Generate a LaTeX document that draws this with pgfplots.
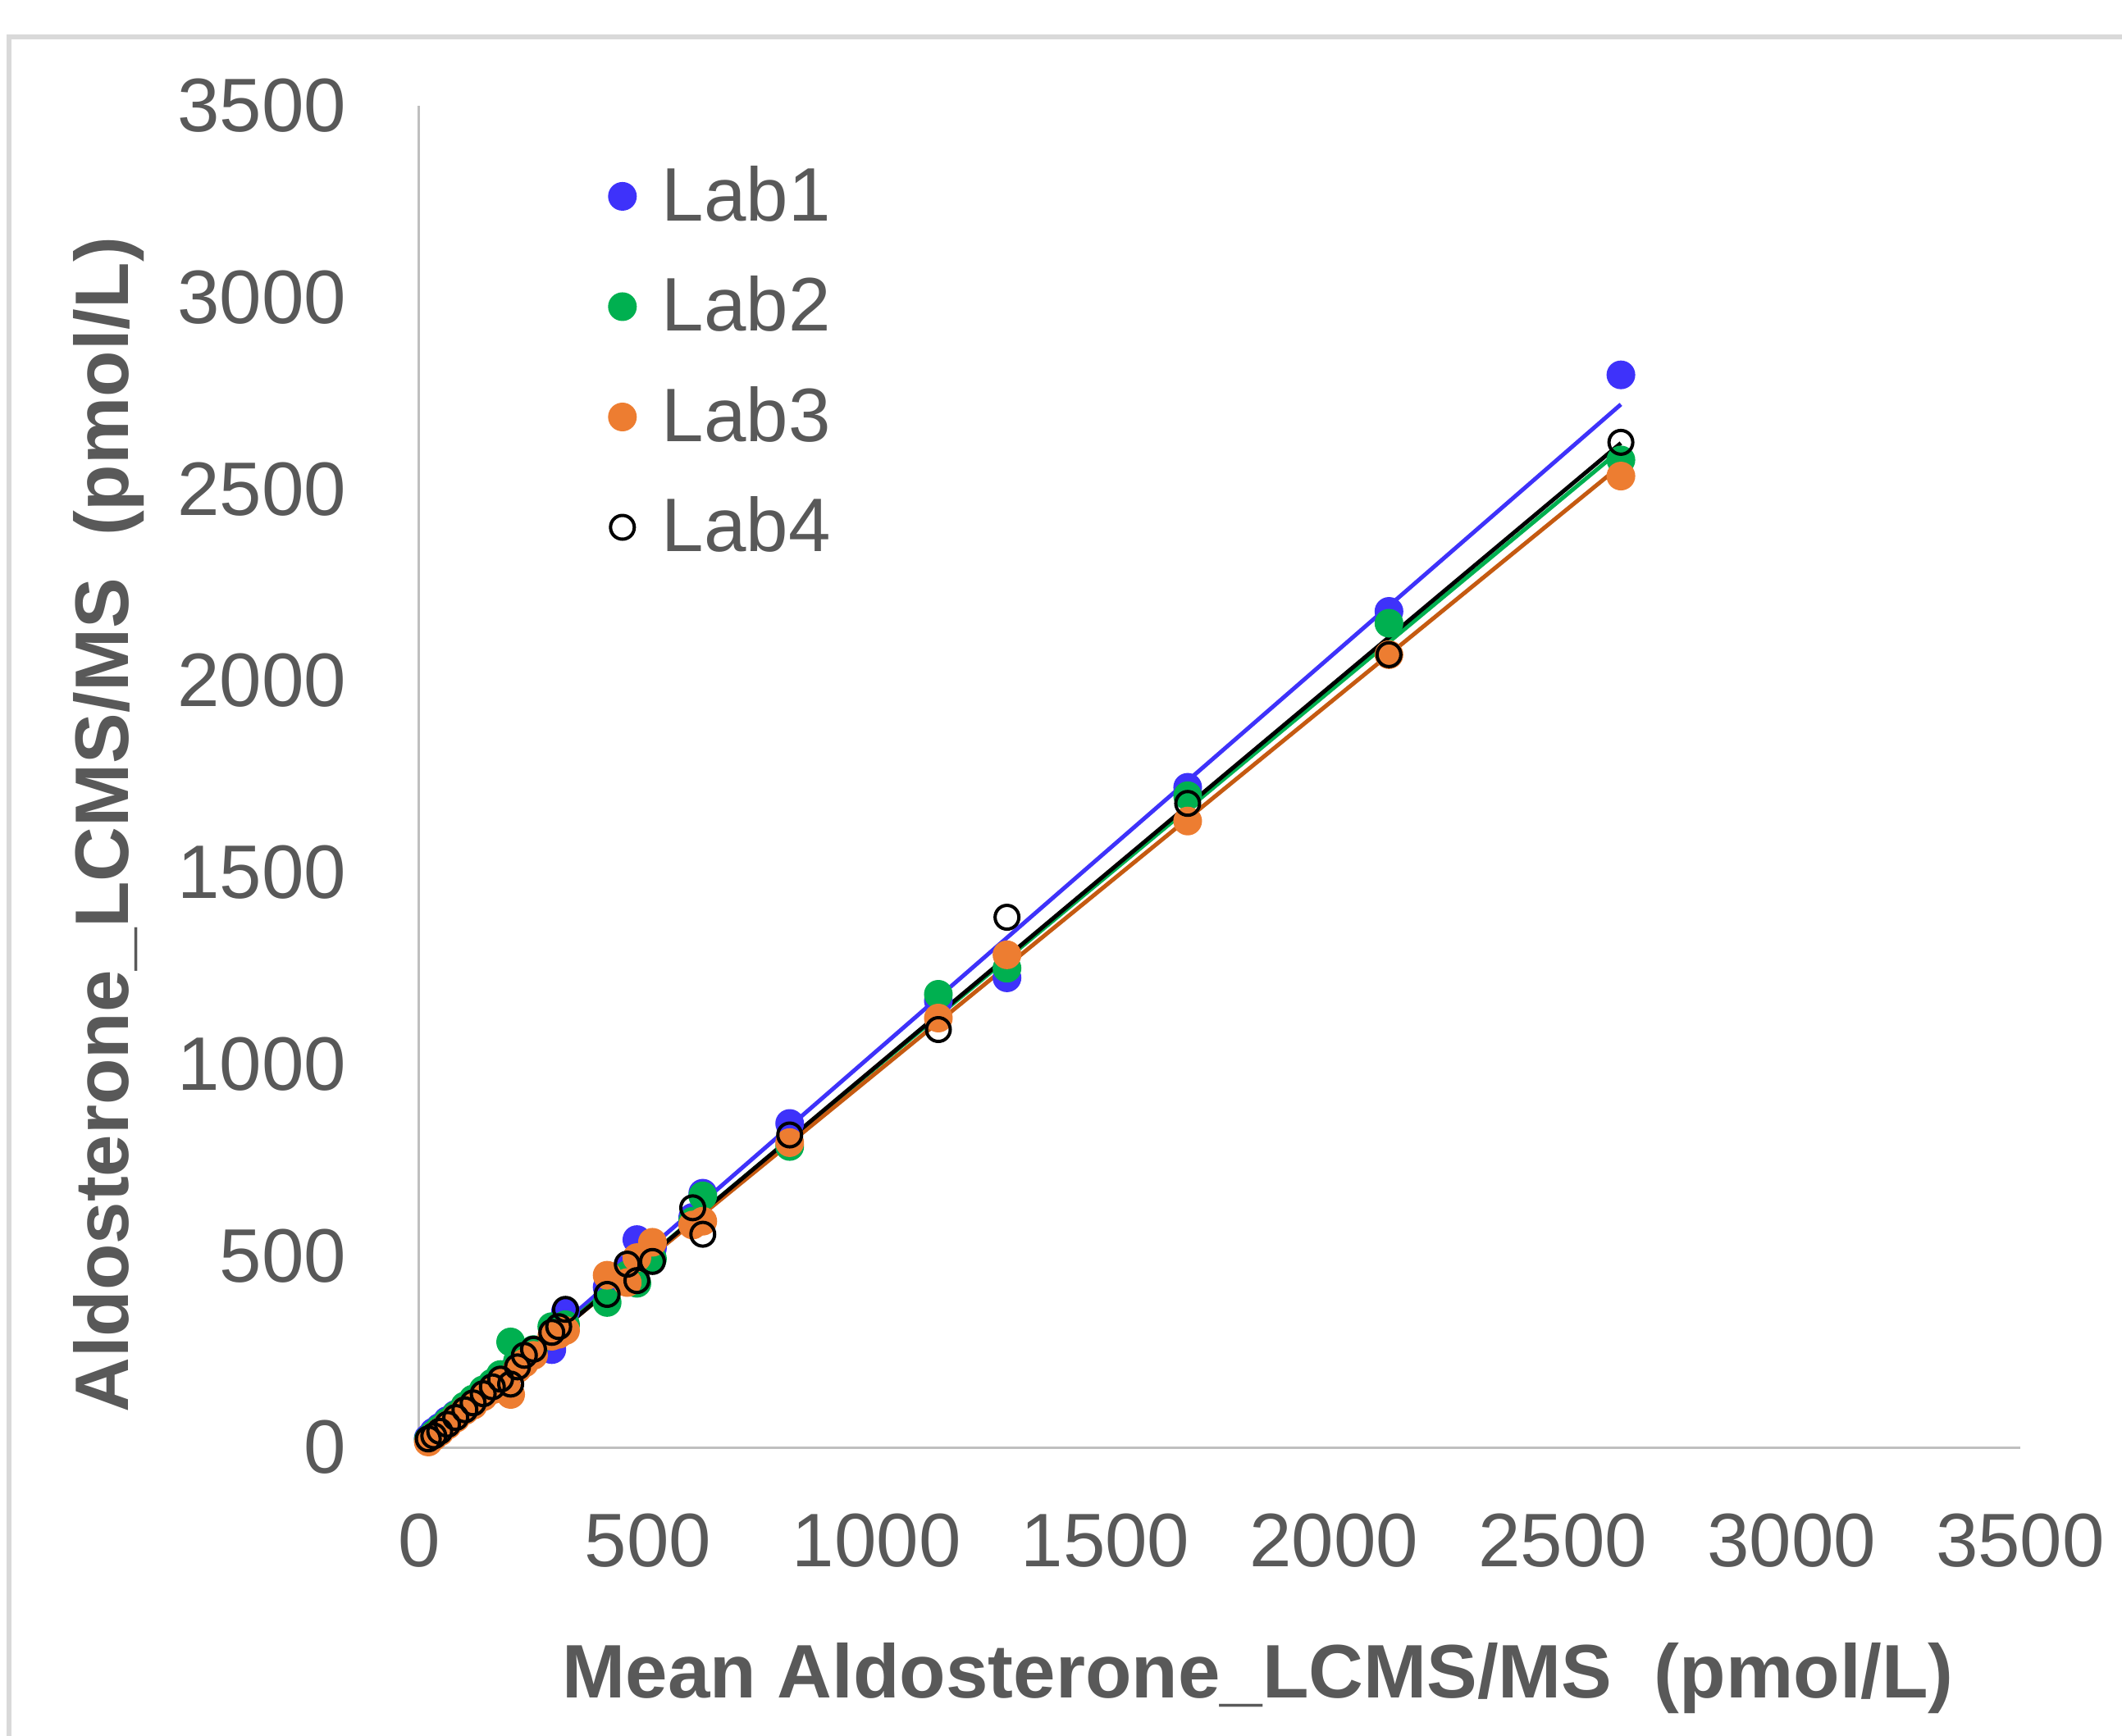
\documentclass[border=0pt]{standalone}
\usepackage{fontspec}
\setmainfont{Liberation Sans}
\usepackage{pgfplots}
\pgfplotsset{compat=1.18}

\definecolor{labblue}{RGB}{62,50,250}
\definecolor{labgreen}{RGB}{0,176,80}
\definecolor{laborange}{RGB}{237,125,49}
\definecolor{laborangeline}{RGB}{197,90,17}
\definecolor{textgray}{RGB}{89,89,89}
\definecolor{axisgray}{RGB}{191,191,191}
\definecolor{framegray}{RGB}{217,217,217}

% x = mean of the four labs, then one column per lab
\pgfplotstableread{
x     lab1  lab2  lab3  lab4
20    24    20    14    22
32    40    34    28    30
45    52    48    40    42
62    70    66    58    60
80    86    84    76    78
100   104   108   96    98
118   122   126   110   116
140   142   150   132   140
160   160   168   150   158
178   176   190   168   178
200   196   275   138   165
215   214   225   205   210
230   228   238   220   240
250   248   255   240   256
290   255   315   290   300
305   300   310   295   315
320   355   320   305   360
411   418   378   449   399
455   465   450   430   478
476   542   428   495   435
510   520   492   535   485
598   600   590   580   625
620   663   656   590   556
810   845   785   795   815
1135  1165  1182  1120  1090
1285  1225  1250  1285  1383
1680  1722  1700  1634  1680
2120  2181  2150  2068  2068
2627  2798  2576  2534  2622
}\labdata

% trend lines, start and end
\pgfplotstableread{
x     lab1  lab2  lab3  lab4
20    18    22    24    16
2627  2721  2603  2562  2620
}\trenddata

\begin{document}
\begin{tikzpicture}
\begin{axis}[
    at={(0,0)}, anchor=south west,
    scale only axis,
    width=390.4pt, height=327.2pt,
    xmin=0, xmax=3500, ymin=0, ymax=3500,
    xtick={0,500,...,3500},
    ytick={0,500,...,3500},
    axis lines*=left,
    axis line style={draw=axisgray, line width=0.6pt},
    major tick length=0pt,
    clip=false,
    /pgf/number format/assume math mode=true,
    /pgf/number format/set thousands separator={},
    tick label style={font=\fontsize{18.5}{22}\selectfont, text=textgray},
    xticklabel style={anchor=north, inner sep=0pt, yshift=-16pt},
    yticklabel style={anchor=east, inner sep=0pt, xshift=-17.6pt},
    xlabel={Mean Aldosterone\_LCMS/MS\ \ (pmol/L)},
    ylabel={Aldosterone\_LCMS/MS\ \ (pmol/L)},
    label style={font=\bfseries\fontsize{18.5}{22}\selectfont, text=textgray},
    xlabel style={at={(axis description cs:0.524,-0.172)}, anchor=center},
    ylabel style={at={(axis description cs:-0.194,0.464)}, anchor=center},
    legend style={at={(axis description cs:0.118,0.962)}, anchor=north west,
        draw=none, fill=none, inner sep=0pt, row sep=8pt, column sep=4.3pt,
        font=\fontsize{18.5}{22}\selectfont, text=textgray},
    legend cell align=left,
    legend image code/.code={\draw[mark repeat=2,mark phase=2,#1]
        plot coordinates {(0pt,0pt) (3.3pt,0pt) (6.6pt,0pt)};},
]
\addplot[only marks, mark=*, mark size=3.3pt, color=labblue] table[x=x, y=lab1] {\labdata};
\addlegendentry{Lab1}
\addplot[only marks, mark=*, mark size=3.3pt, color=labgreen] table[x=x, y=lab2] {\labdata};
\addlegendentry{Lab2}
\addplot[only marks, mark=*, mark size=3.3pt, color=laborange] table[x=x, y=lab3] {\labdata};
\addlegendentry{Lab3}
\addplot[only marks, mark=o, mark size=2.9pt, color=black, line width=0.8pt] table[x=x, y=lab4] {\labdata};
\addlegendentry{Lab4}

\addplot[labblue, line width=1pt, forget plot] table[x=x, y=lab1] {\trenddata};
\addplot[labgreen, line width=1pt, forget plot] table[x=x, y=lab2] {\trenddata};
\addplot[laborangeline, line width=1pt, forget plot] table[x=x, y=lab3] {\trenddata};
\addplot[black, line width=1pt, forget plot] table[x=x, y=lab4] {\trenddata};
\end{axis}
\pgfresetboundingbox
\useasboundingbox (-102.2pt,-70.4pt) rectangle (415.2pt,353pt);
\draw[framegray, line width=1.2pt] (-100pt,-71pt) -- (-100pt,344pt) -- (416pt,344pt);
\end{tikzpicture}
\end{document}
